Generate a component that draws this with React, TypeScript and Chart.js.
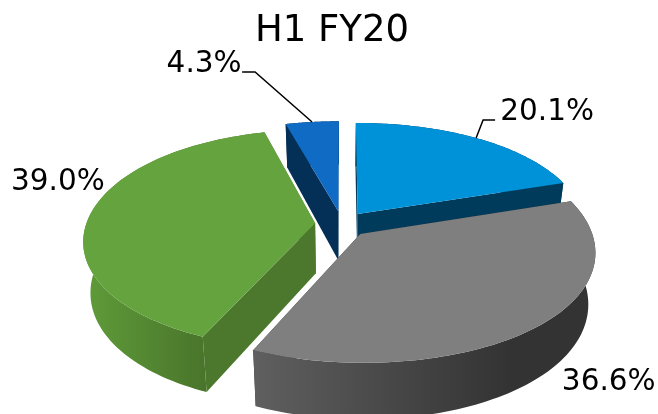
import React, { useEffect, useRef } from "react";
import { Chart, registerables } from "chart.js";

Chart.register(...registerables);

const titleText = "H1 FY20";
const categories = ["Segment A", "Segment B", "Segment C", "Segment D"];
const shares = [20.1, 36.6, 39.0, 4.3];
const topColors = ["#0092d8", "#7f7f7f", "#65a33f", "#0f6bc3"];
const faceColors = ["#003b5c", "#333333", "#4b782d", "#042f56"];
const wallStops: [number, string, number, string][] = [
  [350, "#003b5c", 570, "#003b5c"],
  [255, "#5f5f5f", 510, "#333333"],
  [86, "#5f9b39", 205, "#49752b"],
  [287, "#042f56", 340, "#042f56"],
];
const drawOrder = [3, 0, 2, 1];
const labelOffsets: [number, number][] = [
  [71, -26],
  [72, 55],
  [-32, -33],
  [-108, -58],
];
const leaderElbows: ([number, number] | null)[][] = [
  [[7, -18], [19, -18]],
  [],
  [],
  [[-57, -50], [-70, -50]],
];

// projection of the tilted pie plane onto the picture
const RX = 229;
const RX_PERSPECTIVE = 34;
const RX_CURVE = 6;
const RY = 110;
const RY_PERSPECTIVE = 16;
const DEPTH = 50;
const DEPTH_PERSPECTIVE = 6;
const BASE_SHRINK = 0.028;
const CENTER_SHIFT_X = 10;
const EXPLODE = 27;
const FONT = '"DejaVu Sans", sans-serif';

type Pt = { x: number; y: number };

function project(cx: number, cy: number, u: number, v: number, low: boolean): Pt {
  const x = u * (RX + RX_PERSPECTIVE * v + RX_CURVE * v * v);
  const y = v * (RY + RY_PERSPECTIVE * v);
  if (!low) return { x: cx + x, y: cy + y };
  return { x: cx + x * (1 - BASE_SHRINK), y: cy + y + DEPTH + DEPTH_PERSPECTIVE * v };
}

function sliceGeometry(el: any) {
  const cx = el.x + CENTER_SHIFT_X;
  const cy = el.y;
  const mid = (el.startAngle + el.endAngle) / 2;
  const d = (el.options.offset || 0) / RX;
  const ou = Math.cos(mid) * d;
  const ov = Math.sin(mid) * d;
  const at = (a: number, r: number, low: boolean) =>
    project(cx, cy, ou + Math.cos(a) * r, ov + Math.sin(a) * r, low);
  return { mid, at };
}

function trace(ctx: CanvasRenderingContext2D, pts: Pt[]) {
  ctx.beginPath();
  pts.forEach((p, i) => (i ? ctx.lineTo(p.x, p.y) : ctx.moveTo(p.x, p.y)));
  ctx.closePath();
}

const pie3d = {
  id: "pie3d",
  beforeDatasetDraw(chart: any) {
    const ctx: CanvasRenderingContext2D = chart.ctx;
    const arcs = chart.getDatasetMeta(0).data;
    ctx.save();
    drawOrder.forEach((i) => {
      const el = arcs[i];
      const { at } = sliceGeometry(el);
      const steps = 90;
      const angles: number[] = [];
      for (let s = 0; s <= steps; s++) angles.push(el.startAngle + ((el.endAngle - el.startAngle) * s) / steps);
      const upper = angles.map((a) => at(a, 1, false));
      const lower = angles.map((a) => at(a, 1, true));
      const tipHi = at(0, 0, false);
      const tipLo = at(0, 0, true);

      ctx.fillStyle = faceColors[i];
      trace(ctx, [tipHi, upper[0], lower[0], tipLo]);
      ctx.fill();
      trace(ctx, [tipHi, upper[steps], lower[steps], tipLo]);
      ctx.fill();

      const [x0, c0, x1, c1] = wallStops[i];
      const grad = ctx.createLinearGradient(x0, 0, x1, 0);
      grad.addColorStop(0, c0);
      grad.addColorStop(1, c1);
      ctx.fillStyle = grad;
      trace(ctx, [...upper, ...lower.slice().reverse()]);
      ctx.fill();

      ctx.fillStyle = el.options.backgroundColor;
      trace(ctx, [tipHi, ...upper]);
      ctx.fill();
    });
    ctx.restore();
    return false;
  },
  afterDatasetsDraw(chart: any) {
    const ctx: CanvasRenderingContext2D = chart.ctx;
    const arcs = chart.getDatasetMeta(0).data;
    ctx.save();
    ctx.font = `29.5px ${FONT}`;
    ctx.textAlign = "center";
    ctx.textBaseline = "middle";
    arcs.forEach((el: any, i: number) => {
      const { mid, at } = sliceGeometry(el);
      const anchor = at(mid, 1, false);
      const elbows = leaderElbows[i];
      if (elbows.length) {
        ctx.strokeStyle = "#000000";
        ctx.lineWidth = 1.5;
        ctx.beginPath();
        ctx.moveTo(anchor.x, anchor.y);
        elbows.forEach((e: any) => ctx.lineTo(anchor.x + e[0], anchor.y + e[1]));
        ctx.stroke();
      }
      ctx.fillStyle = "#000000";
      const [dx, dy] = labelOffsets[i];
      ctx.fillText(`${shares[i].toFixed(1)}%`, anchor.x + dx, anchor.y + dy);
    });
    ctx.restore();
  },
};

export default function App() {
  const ref = useRef<HTMLCanvasElement>(null);
  useEffect(() => {
    if (!ref.current) return;
    const chart = new Chart(ref.current, {
      type: "pie",
      data: {
        labels: categories,
        datasets: [
          {
            data: shares,
            backgroundColor: topColors,
            borderWidth: 0,
            offset: EXPLODE,
          },
        ],
      },
      options: {
        responsive: false,
        animation: false,
        layout: { padding: { left: 6, bottom: 26 } },
        plugins: {
          legend: { display: false },
          tooltip: { enabled: false },
          title: {
            display: true,
            text: titleText,
            color: "#000000",
            font: { family: FONT, size: 37, weight: "normal" },
            padding: { top: 9, bottom: 7 },
          },
        },
      },
      plugins: [pie3d],
    } as any);
    return () => chart.destroy();
  }, []);
  return (
    <canvas
      ref={ref}
      width={658}
      height={414}
      style={{ position: "fixed", left: 0, top: 0, width: 658, height: 414, background: "#ffffff" }}
    />
  );
}
